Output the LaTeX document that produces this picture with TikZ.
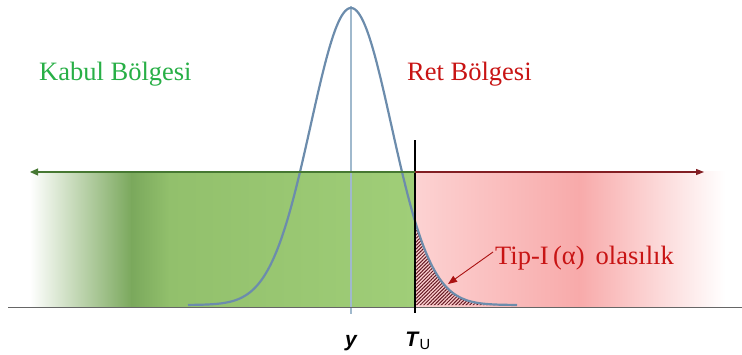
\documentclass[tikz,border=0pt]{standalone}
\usepackage{fontspec}
\setmainfont{Liberation Serif}
\setsansfont{Liberation Sans}
\usetikzlibrary{patterns.meta,arrows.meta}
\definecolor{gdark}{RGB}{122,168,92}
\definecolor{gmid}{RGB}{146,192,108}
\definecolor{glight}{RGB}{160,206,120}
\definecolor{rlight}{RGB}{252,210,210}
\definecolor{rmid}{RGB}{248,170,170}
\definecolor{garrow}{RGB}{70,120,50}
\definecolor{rarrow}{RGB}{130,30,35}
\definecolor{curvec}{RGB}{108,140,172}
\definecolor{meanc}{RGB}{160,185,205}
\definecolor{txtgreen}{RGB}{40,175,70}
\definecolor{txtred}{RGB}{200,20,20}
\definecolor{hatchc}{RGB}{100,25,35}
\tikzset{
  regiontext/.style={font=\fontsize{26.5}{30}\selectfont, inner sep=0pt, anchor=base west},
  axlabel/.style={font=\sffamily\fontsize{21}{24}\selectfont, inner sep=0pt, anchor=base},
  bell/.style={draw=curvec, line width=2.2pt},
}
\begin{document}
\begin{tikzpicture}[x=1pt,y=-1pt]
\useasboundingbox (0,0) rectangle (742,354);
% green acceptance region
\shade[left color=white, right color=gdark] (30,171) rectangle (132,307);
\shade[left color=gdark, right color=gmid] (131,171) rectangle (170,307);
\shade[left color=gmid, right color=glight] (169,171) rectangle (415,307);
% red rejection region
\shade[left color=rlight, right color=rmid] (415,171) rectangle (580,307);
\shade[left color=rmid, right color=white] (579,171) rectangle (725,307);
% hatched tail
\fill[pattern={Lines[angle=45,distance=2.5pt,line width=1pt]}, pattern color=hatchc]
  (415,305) -- plot[domain=415:517, samples=60] (\x, {305-297*exp(-0.5*((\x-351)/40.25)^2)}) -- (517,305) -- cycle;
% mean line
\draw[meanc, line width=1.2pt] (351,6) -- (351,314);
% bell curve
\draw[bell] plot[domain=188:517, samples=200, smooth] (\x, {305-297*exp(-0.5*((\x-351)/40.25)^2)});
% axis
\draw[gray!80!black, line width=1pt] (8,307) -- (742,307);
% critical value line
\draw[black, line width=1.1pt] (415,140) -- (415,313);
% arrows
\coordinate (mid) at (415,172);
\coordinate (gleft) at (30,172);
\coordinate (rright) at (704,172);
\draw[garrow, line width=1.1pt, -{Triangle[length=8pt,width=7pt]}] (mid) -- (gleft);
\draw[rarrow, line width=1.1pt, -{Triangle[length=8pt,width=6pt]}] (mid) -- (rright);
% texts
\node[regiontext, text=txtgreen] (kabul) at (39,80) {Kabul Bölgesi};
\node[regiontext, text=txtred] (ret) at (407,80) {Ret Bölgesi};
\node[regiontext, text=txtred] (tip) at (495,264) {Tip-I\,(α) \,olasılık};
\coordinate (tipstart) at (493,252);
\coordinate (tail) at (448,284);
\draw[txtred!85!black, line width=0.9pt, -{Triangle[length=9pt,width=7pt]}] (tipstart) -- (tail);
\node[axlabel] (ylab) at (351,346) {\bfseries\itshape y};
\node[axlabel] (tlab) at (418,346) {\textbf{\textit{T}}\textsubscript{U}};
\end{tikzpicture}
\end{document}
